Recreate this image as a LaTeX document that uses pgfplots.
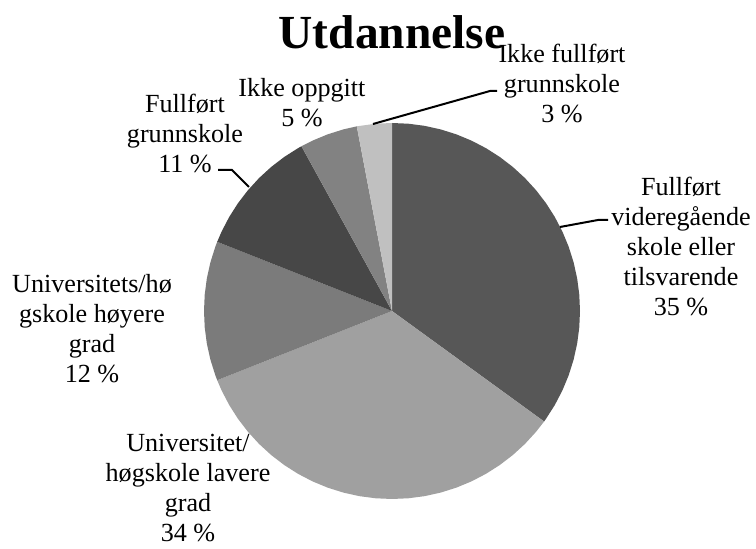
\documentclass[border=0pt]{standalone}
\usepackage{fontspec}
\setmainfont{Liberation Serif}
\usepackage{pgfplots}
\pgfplotsset{compat=1.18}
\definecolor{cA}{HTML}{575757}
\definecolor{cB}{HTML}{A0A0A0}
\definecolor{cC}{HTML}{7B7B7B}
\definecolor{cD}{HTML}{474747}
\definecolor{cE}{HTML}{828282}
\definecolor{cF}{HTML}{C0C0C0}
\begin{document}
\begin{tikzpicture}
\begin{axis}[
  scale only axis, width=567pt, height=411.75pt,
  xmin=-392, xmax=364, ymin=-238, ymax=311,
  hide axis, clip=false,
]
\coordinate (bl) at (axis cs:-392,-238);
\coordinate (tr) at (axis cs:364,311);
% Fullført videregående skole eller tilsvarende: 35 %  (90 -> -36)
\addplot[fill=cA, draw=none, data cs=polar] coordinates {
 (0,0) (90,188) (85,188) (80,188) (75,188) (70,188) (65,188) (60,188) (55,188) (50,188) (45,188) (40,188) (35,188) (30,188) (25,188) (20,188) (15,188) (10,188) (5,188) (0,188) (-5,188) (-10,188) (-15,188) (-20,188) (-25,188) (-30,188) (-35,188) (-36,188)} -- cycle;
% Universitet/høgskole lavere grad: 34 %  (-36 -> -158.4)
\addplot[fill=cB, draw=none, data cs=polar] coordinates {
 (0,0) (-36,188) (-40,188) (-45,188) (-50,188) (-55,188) (-60,188) (-65,188) (-70,188) (-75,188) (-80,188) (-85,188) (-90,188) (-95,188) (-100,188) (-105,188) (-110,188) (-115,188) (-120,188) (-125,188) (-130,188) (-135,188) (-140,188) (-145,188) (-150,188) (-155,188) (-158.4,188)} -- cycle;
% Universitets/høgskole høyere grad: 12 %  (-158.4 -> -201.6)
\addplot[fill=cC, draw=none, data cs=polar] coordinates {
 (0,0) (-158.4,188) (-160,188) (-165,188) (-170,188) (-175,188) (-180,188) (-185,188) (-190,188) (-195,188) (-200,188) (-201.6,188)} -- cycle;
% Fullført grunnskole: 11 %  (-201.6 -> -241.2)
\addplot[fill=cD, draw=none, data cs=polar] coordinates {
 (0,0) (-201.6,188) (-205,188) (-210,188) (-215,188) (-220,188) (-225,188) (-230,188) (-235,188) (-240,188) (-241.2,188)} -- cycle;
% Ikke oppgitt: 5 %  (-241.2 -> -259.2)
\addplot[fill=cE, draw=none, data cs=polar] coordinates {
 (0,0) (-241.2,188) (-245,188) (-250,188) (-255,188) (-259.2,188)} -- cycle;
% Ikke fullført grunnskole: 3 %  (-259.2 -> -270)
\addplot[fill=cF, draw=none, data cs=polar] coordinates {
 (0,0) (-259.2,188) (-265,188) (-270,188)} -- cycle;

% title
\node[anchor=base, font=\fontsize{35.6}{40}\selectfont\bfseries] at (axis cs:0,262) {Utdannelse};

% labels
\tikzset{lbl/.style={align=center, inner sep=0pt, font=\fontsize{19.6}{22.5}\selectfont}}
\node[lbl] at (axis cs:170,228) {Ikke fullført\\grunnskole\\3 \%};
\node[lbl] at (axis cs:-90,208) {Ikke oppgitt\\5 \%};
\node[lbl] at (axis cs:-207,178) {Fullført\\grunnskole\\11 \%};
\node[lbl] at (axis cs:289,65) {Fullført\\videregående\\skole eller\\tilsvarende\\35 \%};
\node[lbl] at (axis cs:-300,-18) {Universitets/hø\\gskole høyere\\grad\\12 \%};
\node[lbl] at (axis cs:-204,-177) {Universitet/\\høgskole lavere\\grad\\34 \%};

% leader lines
\draw[line width=1.5pt] (axis cs:-19,187) -- (axis cs:98,220) -- (axis cs:105,220);
\draw[line width=1.5pt] (axis cs:-143,124) -- (axis cs:-160,141) -- (axis cs:-174,141);
\draw[line width=1.5pt] (axis cs:168,84) -- (axis cs:206,91) -- (axis cs:216,91);
\end{axis}
\pgfresetboundingbox
\path[use as bounding box] (bl) rectangle (tr);
\end{tikzpicture}
\end{document}
